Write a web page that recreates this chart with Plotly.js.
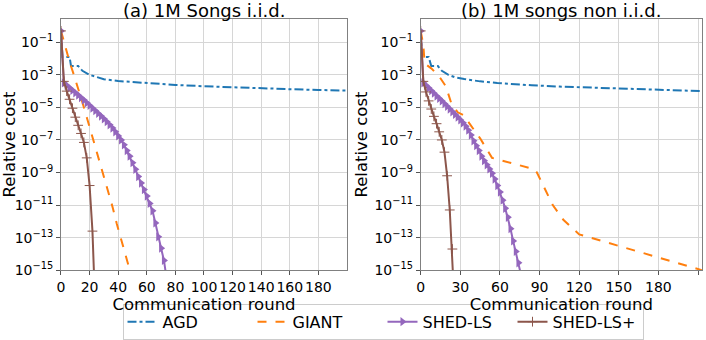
<!DOCTYPE html>
<html>
<head>
<meta charset="utf-8">
<script src="https://cdn.plot.ly/plotly-3.0.1.min.js"></script>
<style>
  html, body { margin: 0; padding: 0; background: #fff; }
  #chart { width: 706px; height: 340px; }
</style>
</head>
<body>
<div id="chart"></div>
<script>
// values stored as log10 of relative cost

// (a) 1M Songs i.i.d.
const agdRoundsA = [0, 1, 6, 7, 12, 15, 20, 25, 30, 40, 50, 60, 80, 100, 120, 140, 160, 180, 200];
const agdExpA = [-0.3, -1.9, -1.9, -2.45, -2.45, -2.75, -3.0, -3.15, -3.27, -3.38, -3.45, -3.52, -3.62, -3.7, -3.77, -3.82, -3.88, -3.93, -3.97];

const giantRoundsA = [0, 3, 6, 9, 12, 15, 18, 21, 24, 27, 30, 33, 36, 39, 42, 45, 48, 51];
const giantExpA = [-0.3, -1.3, -2.2, -3.0, -3.8, -4.7, -5.6, -6.5, -7.4, -8.3, -9.2, -10.2, -11.1, -12.15, -13.1, -14.1, -15.0, -15.9];

const shedRoundsA = [0, 2, 4, 6, 8, 10, 12, 14, 16, 18, 20, 22, 24, 26, 28, 30, 32, 34, 36, 38,
  40, 42, 44, 46, 48, 50, 52, 54, 56, 58, 60, 62, 64, 66, 68, 70, 72, 74];
const shedExpA = [-0.3, -3.5, -3.65, -3.8, -3.95, -4.1, -4.25, -4.4, -4.55, -4.72, -4.88, -5.05, -5.2, -5.37, -5.53, -5.7, -5.88, -6.07, -6.27, -6.5,
  -6.75, -7.0, -7.3, -7.65, -8.0, -8.4, -8.8, -9.25, -9.65, -10.05, -10.45, -10.9, -11.35, -12.1, -12.95, -13.65, -14.4, -15.6];

const plusRoundsA = [0, 2, 4, 6, 8, 10, 12, 14, 16, 18, 20, 22, 24];
const plusExpA = [-0.3, -3.4, -4.0, -4.5, -5.05, -5.6, -6.1, -6.6, -7.15, -8.1, -9.8, -12.6, -17.5];

// (b) 1M songs non i.i.d.
const agdRoundsB = [0, 1, 6, 8, 13, 16, 21, 26, 33, 45, 58, 70, 84, 105, 137, 160, 185, 213];
const agdExpB = [-0.3, -1.9, -1.9, -2.46, -2.46, -2.75, -3.0, -3.15, -3.26, -3.4, -3.5, -3.57, -3.64, -3.72, -3.8, -3.87, -3.93, -4.0];

const giantRoundsB = [0, 2, 3, 8, 14, 19, 23, 28, 33, 37, 45, 54, 86, 88, 100, 108, 120, 213];
const giantExpB = [-0.3, -1.2, -2.3, -2.6, -3.1, -3.7, -4.7, -5.3, -5.5, -6.0, -6.9, -8.1, -8.8, -9.0, -11.0, -11.9, -12.8, -15.0];

const shedRoundsB = [0, 2, 4, 6, 8, 10, 12, 14, 16, 18, 20, 22, 24, 26, 28, 30, 32, 34, 36, 38,
  40, 42, 44, 46, 48, 50, 52, 54, 56, 58, 60, 62, 64, 66, 68, 70, 72, 74, 76];
const shedExpB = [-0.3, -3.5, -3.65, -3.8, -3.97, -4.13, -4.3, -4.45, -4.6, -4.77, -4.93, -5.1, -5.27, -5.43, -5.6, -5.77, -5.95, -6.15, -6.4, -6.7,
  -7.05, -7.35, -7.65, -8.0, -8.27, -8.53, -8.78, -9.05, -9.4, -9.8, -10.2, -10.7, -11.2, -11.75, -12.45, -13.2, -13.85, -14.55, -15.3];

const plusRoundsB = [0, 2, 4, 6, 8, 10, 12, 14, 16, 18, 20, 22, 24, 26];
const plusExpB = [-0.3, -3.4, -4.05, -4.6, -5.1, -5.55, -6.0, -6.5, -7.0, -7.75, -9.2, -11.3, -13.7, -17.8];

const seriesNames = ["AGD", "GIANT", "SHED-LS", "SHED-LS+"];
const colors = ["#1f77b4", "#ff7f0e", "#9467bd", "#8c564b"];

const yTickExp = [-1, -3, -5, -7, -9, -11, -13, -15];
const xTicksA = [0, 20, 40, 60, 80, 100, 120, 140, 160, 180];
const xTicksB = [0, 30, 60, 90, 120, 150, 180, 210];

const pow10 = arr => arr.map(e => Math.pow(10, e));
const font = "DejaVu Sans, sans-serif";

function makeTraces(sub, rounds, exps, show) {
  const xa = sub === 1 ? "x" : "x2";
  const ya = sub === 1 ? "y" : "y2";
  const styles = [
    { mode: "lines", line: { color: colors[0], width: 2, dash: "dashdot" } },
    { mode: "lines", line: { color: colors[1], width: 2, dash: "dash" } },
    { mode: "lines+markers", line: { color: colors[2], width: 2 },
      marker: { symbol: "triangle-right", size: 8, color: colors[2] } },
    { mode: "lines+markers", line: { color: colors[3], width: 2 },
      marker: { symbol: "cross-thin", size: 7, color: colors[3], line: { color: colors[3], width: 1 } } }
  ];
  return rounds.map((r, i) => Object.assign({
    type: "scatter",
    x: r,
    y: pow10(exps[i]),
    name: seriesNames[i],
    legendgroup: seriesNames[i],
    showlegend: show,
    xaxis: xa,
    yaxis: ya
  }, styles[i]));
}

const data = [
  ...makeTraces(1, [agdRoundsA, giantRoundsA, shedRoundsA, plusRoundsA], [agdExpA, giantExpA, shedExpA, plusExpA], true),
  ...makeTraces(2, [agdRoundsB, giantRoundsB, shedRoundsB, plusRoundsB], [agdExpB, giantExpB, shedExpB, plusExpB], false)
];

const yTickVals = yTickExp.map(e => Math.pow(10, e));
const yTickText = yTickExp.map(e => "10<sup>\u2212" + (-e) + "</sup>");

function xAxis(domain, range, ticks) {
  return {
    domain: domain,
    range: range,
    tickvals: ticks,
    ticktext: ticks.map(String),
    tickangle: 0,
    showgrid: true,
    gridcolor: "#d6d6d6",
    gridwidth: 1,
    zeroline: false,
    showline: true,
    linecolor: "#808080",
    linewidth: 1,
    mirror: true,
    ticks: "outside",
    ticklen: 4,
    tickcolor: "#555",
    tickfont: { family: font, size: 14, color: "#000" },
    title: { text: "Communication round", font: { family: font, size: 16.5, color: "#000" }, standoff: 0 }
  };
}

function yAxis(domain, anchor) {
  return {
    domain: domain,
    anchor: anchor,
    type: "log",
    range: [-15, 0.44],
    tickvals: yTickVals,
    ticktext: yTickText,
    showgrid: true,
    gridcolor: "#d6d6d6",
    gridwidth: 1,
    zeroline: false,
    showline: true,
    linecolor: "#808080",
    linewidth: 1,
    mirror: true,
    ticks: "outside",
    ticklen: 4,
    tickcolor: "#555",
    tickfont: { family: font, size: 14, color: "#000" },
    title: { text: "Relative cost", font: { family: font, size: 16.5, color: "#000" }, standoff: 2 }
  };
}

const yDomain = [0.1862, 0.9432];

const layout = {
  width: 706,
  height: 340,
  margin: { l: 0, r: 0, t: 0, b: 0 },
  paper_bgcolor: "#fff",
  plot_bgcolor: "#fff",
  font: { family: font, color: "#000" },
  xaxis: Object.assign(xAxis([0.0864, 0.4915], [0, 200], xTicksA), { anchor: "y" }),
  yaxis: yAxis(yDomain, "x"),
  xaxis2: Object.assign(xAxis([0.5959, 0.9943], [0, 213], xTicksB), { anchor: "y2" }),
  yaxis2: yAxis(yDomain, "x2"),
  showlegend: true,
  legend: {
    orientation: "h",
    x: 0.5425,
    xanchor: "center",
    y: 0.085,
    yanchor: "top",
    bordercolor: "#cccccc",
    borderwidth: 1,
    entrywidth: 85,
    entrywidthmode: "pixels",
    font: { family: font, size: 16, color: "#000" }
  },
  annotations: [
    { text: "(a) 1M Songs i.i.d.", xref: "paper", yref: "paper", x: 0.2891, y: 0.9676,
      xanchor: "center", yanchor: "middle", borderpad: 0, showarrow: false, font: { family: font, size: 18, color: "#000" } },
    { text: "(b) 1M songs non i.i.d.", xref: "paper", yref: "paper", x: 0.7952, y: 0.9676,
      xanchor: "center", yanchor: "middle", borderpad: 0, showarrow: false, font: { family: font, size: 18, color: "#000" } }
  ]
};

Plotly.newPlot("chart", data, layout, { displayModeBar: false, staticPlot: true });
</script>
</body>
</html>
